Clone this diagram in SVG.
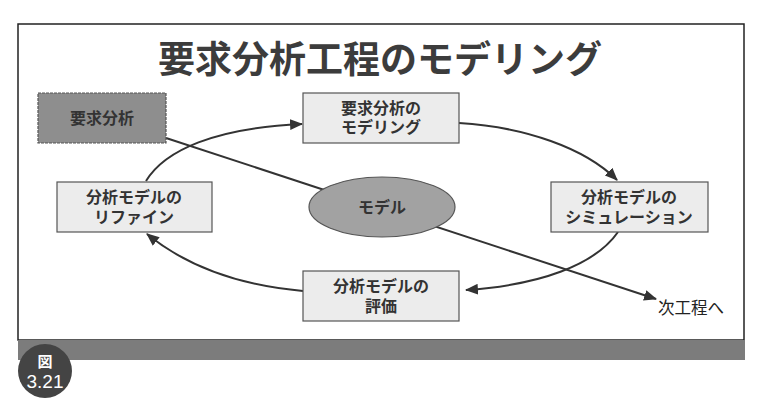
<svg xmlns="http://www.w3.org/2000/svg" width="765" height="412" viewBox="0 0 765 412">
<defs>
<marker id="ah" viewBox="0 0 12 10" refX="11" refY="5" markerWidth="13" markerHeight="11" markerUnits="userSpaceOnUse" orient="auto">
<path d="M0,0 L12,5 L0,10 Z" fill="#333"/>
</marker>
<style>
.box{fill:#ececec;stroke:#555;stroke-width:1.2}
.t{font-family:"Liberation Sans","Noto Sans CJK JP",sans-serif;font-weight:700;fill:#333;text-anchor:middle;font-size:16px}
.c{fill:none;stroke:#333;stroke-width:2}
</style>
</defs>
<rect x="0" y="0" width="765" height="412" fill="#fff"/>
<rect x="18" y="24" width="726" height="316" fill="#fff" stroke="#222" stroke-width="1.5"/>
<rect x="18" y="340" width="727" height="20" fill="#7c7c7c"/>
<text x="380" y="73" class="t" style="font-size:37px;fill:#3c3c3c">要求分析工程のモデリング</text>

<g id="connectors">
<path class="c" d="M166,138 L656,299" marker-end="url(#ah)"/>
<path class="c" d="M146,181 C165,150 215,128 302,124" marker-end="url(#ah)"/>
<path class="c" d="M459,123 C525,127 585,148 617,180" marker-end="url(#ah)"/>
<path class="c" d="M618,232 C595,265 540,285 466,290" marker-end="url(#ah)"/>
<path class="c" d="M303,291 C235,285 185,265 147,234" marker-end="url(#ah)"/>
</g>

<g id="youkyu">
<rect x="38" y="93" width="128" height="50" fill="#8e8e8e" stroke="#555" stroke-width="1.2" stroke-dasharray="3,1"/>
<text x="102" y="124" class="t">要求分析</text>
</g>
<g id="modeling">
<rect class="box" x="303" y="93" width="156" height="50"/>
<text x="381" y="114" class="t">要求分析の</text>
<text x="381" y="133" class="t">モデリング</text>
</g>
<g id="refine">
<rect class="box" x="57" y="182" width="155" height="50"/>
<text x="134" y="203" class="t">分析モデルの</text>
<text x="134" y="223" class="t">リファイン</text>
</g>
<g id="simulation">
<rect class="box" x="551" y="182" width="157" height="50"/>
<text x="629" y="203" class="t">分析モデルの</text>
<text x="629" y="223" class="t">シミュレーション</text>
</g>
<g id="hyouka">
<rect class="box" x="303" y="271" width="156" height="50"/>
<text x="381" y="292" class="t">分析モデルの</text>
<text x="381" y="312" class="t">評価</text>
</g>
<g id="model">
<ellipse cx="382" cy="207" rx="73" ry="30" fill="#a2a2a2" stroke="#555" stroke-width="1.2"/>
<text x="382" y="213" class="t">モデル</text>
</g>
<g id="next">
<text x="691" y="314" class="t" style="font-weight:400;fill:#222;font-size:16.5px">次工程へ</text>
</g>
<g id="badge">
<circle cx="45" cy="371" r="27" fill="#444"/>
<text x="45" y="367" class="t" style="fill:#fff;font-size:15px">図</text>
<text x="45" y="388" class="t" style="fill:#fff;font-size:19px;font-weight:400">3.21</text>
</g>
</svg>
